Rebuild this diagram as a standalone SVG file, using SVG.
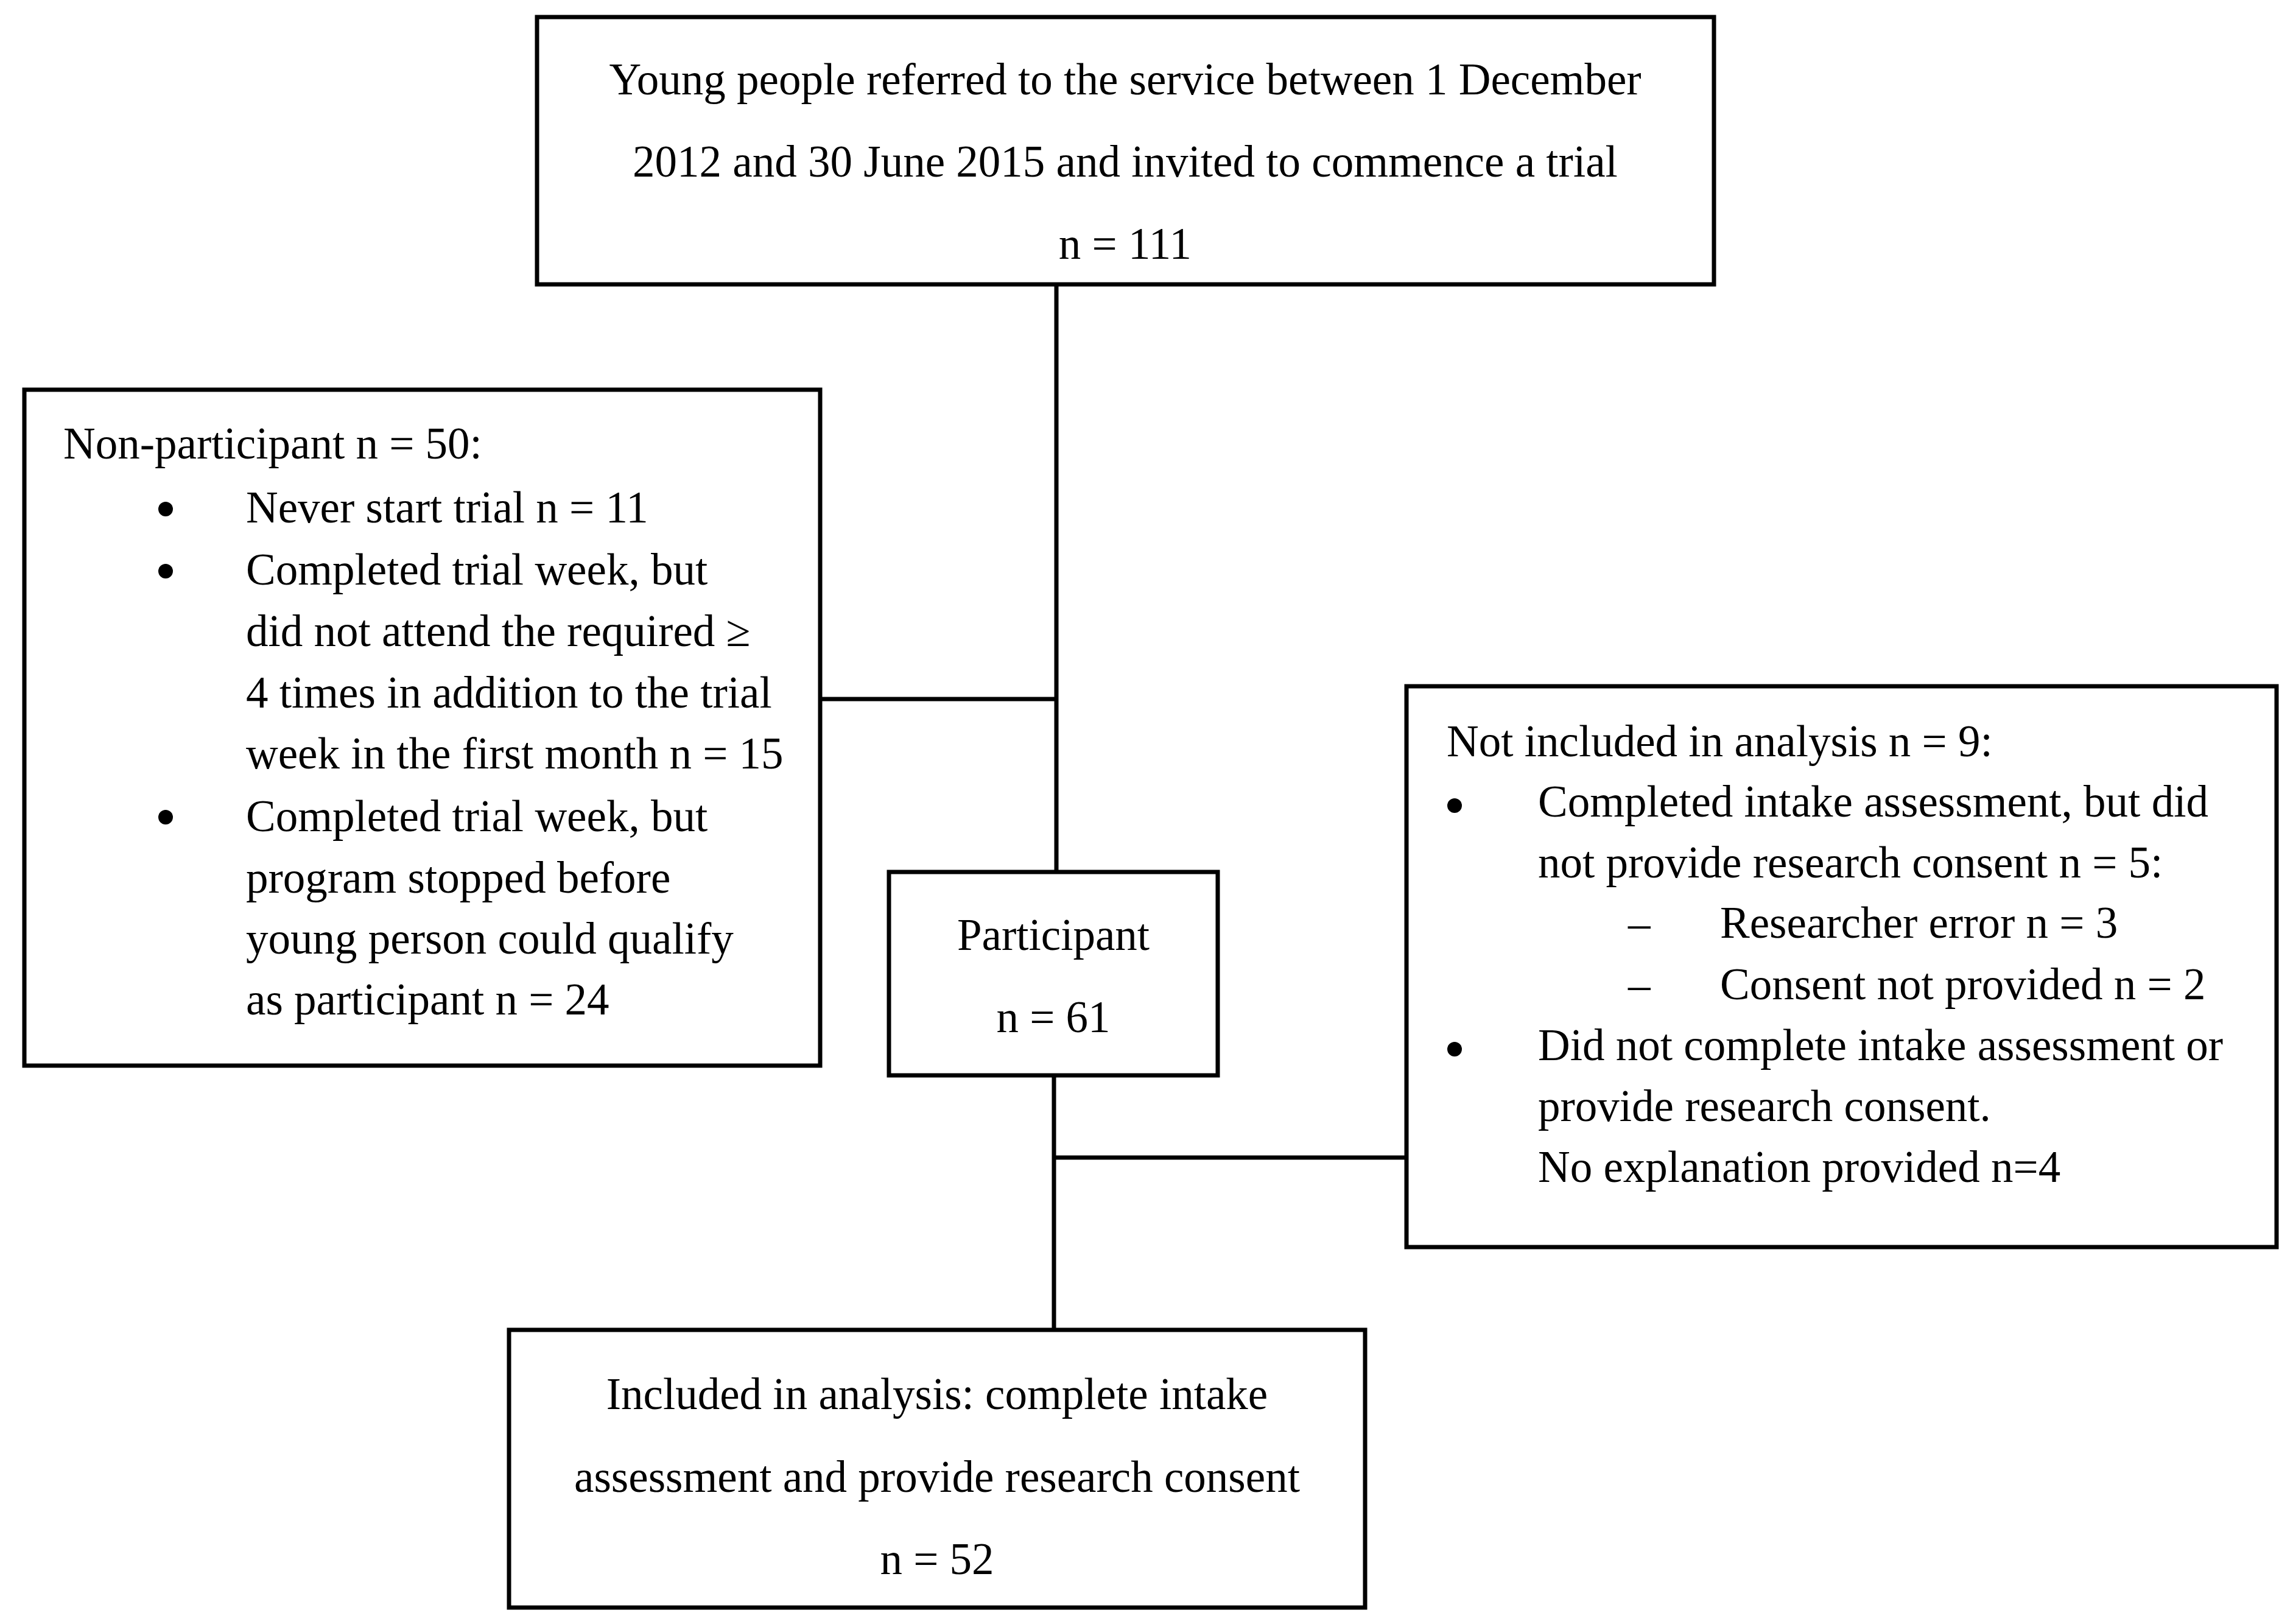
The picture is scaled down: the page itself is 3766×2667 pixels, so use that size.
<svg xmlns="http://www.w3.org/2000/svg" width="3766" height="2667" viewBox="0 0 3766 2667">
<style>
.box{fill:#fff;stroke:#000;stroke-width:7}
.ln{stroke:#000;stroke-width:7;fill:none}
text{font-family:"Liberation Serif","Times New Roman",serif;font-size:73px;fill:#000}
.c{text-anchor:middle}
.dot{fill:#000}
</style>
<rect width="3766" height="2667" fill="#fff"/>
<g id="connectors">
<line class="ln" x1="1735" y1="467" x2="1735" y2="1432"/>
<line class="ln" x1="1347" y1="1148" x2="1735" y2="1148"/>
<line class="ln" x1="1731" y1="1766" x2="1731" y2="2184"/>
<line class="ln" x1="1731" y1="1901" x2="2310" y2="1901"/>
</g>
<g id="node-referred">
<rect class="box" x="882" y="28" width="1933" height="439"/>
<text class="c" x="1848" y="155">Young people referred to the service between 1 December</text>
<text class="c" x="1848" y="290">2012 and 30 June 2015 and invited to commence a trial</text>
<text class="c" x="1848" y="425">n = 111</text>
</g>
<g id="node-nonparticipant">
<rect class="box" x="40" y="640" width="1307" height="1110"/>
<text x="104" y="753">Non-participant n = 50:</text>
<circle class="dot" cx="272" cy="836" r="12"/>
<text x="404" y="858">Never start trial n = 11</text>
<circle class="dot" cx="272" cy="938" r="12"/>
<text x="404" y="960">Completed trial week, but</text>
<text x="404" y="1061">did not attend the required ≥</text>
<text x="404" y="1162">4 times in addition to the trial</text>
<text x="404" y="1262">week in the first month n = 15</text>
<circle class="dot" cx="272" cy="1342" r="12"/>
<text x="404" y="1365">Completed trial week, but</text>
<text x="404" y="1466">program stopped before</text>
<text x="404" y="1566">young person could qualify</text>
<text x="404" y="1666">as participant n = 24</text>
</g>
<g id="node-participant">
<rect class="box" x="1460" y="1432" width="540" height="334"/>
<text class="c" x="1730" y="1560">Participant</text>
<text class="c" x="1730" y="1695">n = 61</text>
</g>
<g id="node-notincluded">
<rect class="box" x="2310" y="1127" width="1429" height="921"/>
<text x="2376" y="1242">Not included in analysis n = 9:</text>
<circle class="dot" cx="2389" cy="1323" r="12"/>
<text x="2526" y="1341">Completed intake assessment, but did</text>
<text x="2526" y="1441">not provide research consent n = 5:</text>
<text x="2674" y="1540">–</text>
<text x="2825" y="1540">Researcher error n = 3</text>
<text x="2674" y="1641">–</text>
<text x="2825" y="1641">Consent not provided n = 2</text>
<circle class="dot" cx="2389" cy="1723" r="12"/>
<text x="2526" y="1741">Did not complete intake assessment or</text>
<text x="2526" y="1841">provide research consent.</text>
<text x="2526" y="1941">No explanation provided n=4</text>
</g>
<g id="node-included">
<rect class="box" x="836" y="2184" width="1406" height="456"/>
<text class="c" x="1539" y="2314">Included in analysis: complete intake</text>
<text class="c" x="1539" y="2450">assessment and provide research consent</text>
<text class="c" x="1539" y="2585">n = 52</text>
</g>
</svg>
